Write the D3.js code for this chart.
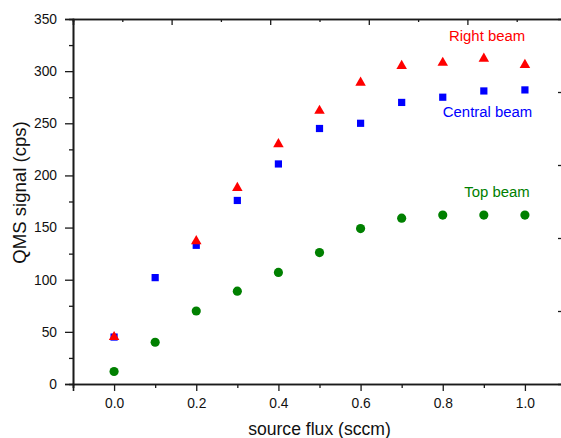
<!DOCTYPE html>
<html><head><meta charset="utf-8">
<script src="https://cdn.jsdelivr.net/npm/d3@7"></script>
<style>body{margin:0;background:#fff}svg{display:block}</style>
</head><body>
<script>
const xTop = [0.0,0.1,0.2,0.3,0.4,0.5,0.6,0.7,0.8,0.9,1.0];
const topBeam = [12,40,70,89,107,126,149,159,162,162,162];
const xCentral = [0.0,0.1,0.2,0.3,0.4,0.5,0.6,0.7,0.8,0.9,1.0];
const centralBeam = [45,102,133,176,211,245,250,270,275,281,282];
const xRight = [0.0,0.2,0.3,0.4,0.5,0.6,0.7,0.8,0.9,1.0];
const rightBeam = [45,137,188,230,262,289,305,308,312,306];
const xMajorTicks = [0.0,0.2,0.4,0.6,0.8,1.0];
const xMinorTicks = [-0.1,0.1,0.3,0.5,0.7,0.9,1.1];
const yMajorTicks = [0,50,100,150,200,250,300,350];
const yMinorTicks = [25,75,125,175,225,275,325];
const labels = [
  {text:"Right beam", color:"#ff0000", x:0.908, y:329},
  {text:"Central beam", color:"#0000ff", x:0.909, y:256},
  {text:"Top beam", color:"#008000", x:0.932, y:179}
];

const W=561,H=438, m={l:73,t:19}, pw=493, ph=365;
const svg=d3.select("body").append("svg").attr("width",W).attr("height",H)
  .style("font-family","Liberation Sans, Arial, sans-serif");
const g=svg.append("g").attr("transform",`translate(${m.l},${m.t})`);
const x=d3.scaleLinear().domain([-0.1,1.1]).range([0,pw]);
const y=d3.scaleLinear().domain([0,350]).range([ph,0]);
const aux=d3.scaleLinear().domain([0,10]).range([0,pw]);
const auxY=d3.scaleLinear().domain([0,10]).range([ph,0]);

function style(sel){
  sel.select(".domain").attr("stroke","#1a1a1a").attr("stroke-width",1.6);
  sel.selectAll(".tick line").attr("stroke","#1a1a1a").attr("stroke-width",1.3);
  sel.selectAll("text").attr("fill","#111").style("font-size","13.8px").style("font-family","Liberation Sans, Arial, sans-serif");
}
// bottom
g.append("g").attr("transform",`translate(0,${ph})`)
  .call(d3.axisBottom(x).tickValues(xMinorTicks).tickSize(4).tickFormat("")).call(style);
g.append("g").attr("transform",`translate(0,${ph})`)
  .call(d3.axisBottom(x).tickValues(xMajorTicks).tickSize(7).tickPadding(7).tickFormat(d3.format(".1f"))).call(style);
// left
g.append("g").call(d3.axisLeft(y).tickValues(yMinorTicks).tickSize(4).tickFormat("")).call(style);
g.append("g").call(d3.axisLeft(y).tickValues(yMajorTicks).tickSize(8).tickPadding(8).tickFormat(d3.format("d"))).call(style);
// top (inward)
g.append("g").call(d3.axisBottom(aux).tickValues([1,3,5,7,9]).tickSize(3).tickFormat("")).call(style);
g.append("g").call(d3.axisBottom(aux).tickValues([2,4,6,8]).tickSize(6).tickFormat("")).call(style);
// right (inward)
g.append("g").attr("transform",`translate(${pw},0)`)
  .call(d3.axisLeft(auxY).tickValues([2,4,6,8]).tickSize(8).tickFormat("")).call(style);

// data
const sq=d3.symbol().type(d3.symbolSquare).size(52);
const ci=d3.symbol().type(d3.symbolCircle).size(66);
const tr=d3.symbol().type(d3.symbolTriangle).size(48);
g.append("g").selectAll("path").data(topBeam).join("path")
  .attr("d",ci).attr("fill","#008000")
  .attr("transform",(d,i)=>`translate(${x(xTop[i])},${y(d)})`);
g.append("g").selectAll("path").data(centralBeam).join("path")
  .attr("d",sq).attr("fill","#0000ff")
  .attr("transform",(d,i)=>`translate(${x(xCentral[i])},${y(d)})`);
g.append("g").selectAll("path").data(rightBeam).join("path")
  .attr("d",tr).attr("fill","#ff0000")
  .attr("transform",(d,i)=>`translate(${x(xRight[i])},${y(d)})`);

// series labels
g.append("g").selectAll("text").data(labels).join("text")
  .attr("x",d=>x(d.x)).attr("y",d=>y(d.y)).attr("text-anchor","middle")
  .attr("fill",d=>d.color).style("font-size","14.9px").text(d=>d.text);

// axis titles
svg.append("text").attr("x",319.5).attr("y",435).attr("text-anchor","middle")
  .style("font-size","17.6px").attr("fill","#111").text("source flux (sccm)");
svg.append("text").attr("transform","translate(25.5,192.5) rotate(-90)").attr("text-anchor","middle")
  .style("font-size","18.6px").attr("fill","#111").text("QMS signal (cps)");
</script>
</body></html>
